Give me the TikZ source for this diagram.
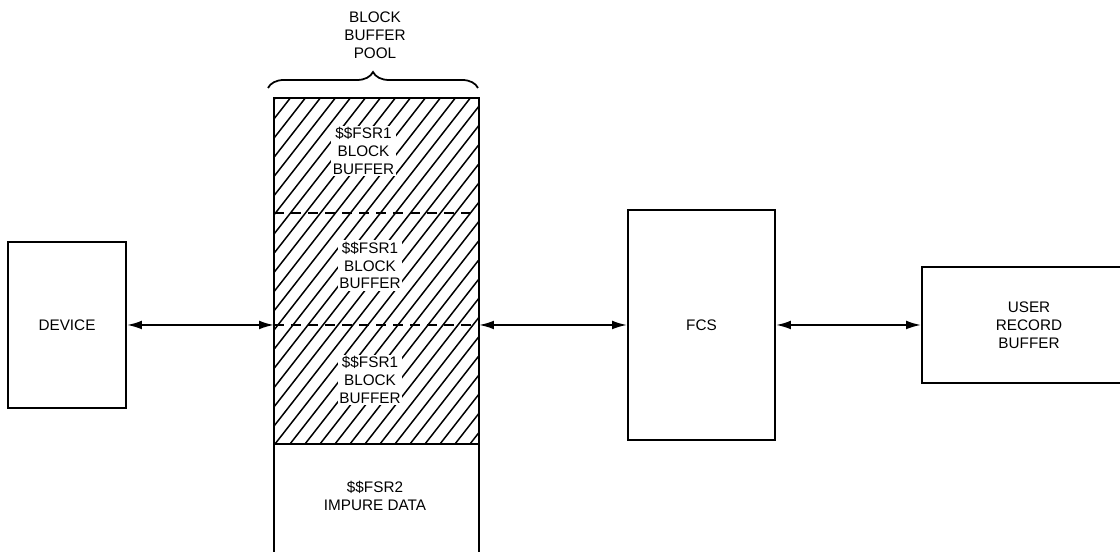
\documentclass[tikz,border=0pt]{standalone}
\usepackage{fontspec}
\setmainfont{Liberation Sans}
\usetikzlibrary{arrows.meta,decorations.pathreplacing}

\begin{document}
\begin{tikzpicture}[>={Latex[length=8.5pt,width=5pt]},
  font=\fontsize{8.7}{10.2}\selectfont,
  box/.style={draw,line width=1.1pt,inner sep=0pt},
  txt/.style={align=center,fill=white,inner sep=1pt},
  link/.style={<->,line width=1.1pt}]
\useasboundingbox (0,0) rectangle (22.4,11.04);
\clip (0,0) rectangle (22.4,11.04);
% ===================== LEFT: device =====================
\node[box,minimum width=2.36cm,minimum height=3.32cm] (device) at (1.34,4.54) {DEVICE};
% ===================== MIDDLE: block buffer pool =====================
\begin{scope}
  % hatching over the three block buffers
  \begin{scope}
    \clip (5.48,2.16) rectangle (9.58,9.08);
    \foreach \k in {0,...,33}
      \draw[line width=0.85pt] (0.1+\k*0.3,2.16) -- ++(52:11.5);
  \end{scope}
  % dashed separators
  \draw[line width=0.9pt,dash pattern=on 0.2cm off 0.14cm] (5.48,6.78) -- (9.58,6.78);
  \draw[line width=0.9pt,dash pattern=on 0.2cm off 0.14cm] (5.48,4.54) -- (9.58,4.54);
  % frame, open at the bottom
  \draw[line width=1.1pt] (5.48,0) -- (5.48,9.08) -- (9.58,9.08) -- (9.58,0);
  \draw[line width=1.1pt] (5.48,2.16) -- (9.58,2.16);
  \coordinate (poolL) at (5.48,4.54);
  \coordinate (poolR) at (9.58,4.54);
  \node[txt] (buf1) at (7.27,8.02) {\$\$FSR1\\BLOCK\\BUFFER};
  \node[txt] (buf2) at (7.40,5.73) {\$\$FSR1\\BLOCK\\BUFFER};
  \node[txt] (buf3) at (7.40,3.44) {\$\$FSR1\\BLOCK\\BUFFER};
  \node[align=center] (impure) at (7.50,1.13) {\$\$FSR2\\IMPURE DATA};
  % brace and title
  \draw[line width=1pt,decorate,decoration={brace,amplitude=0.32cm}] (5.36,9.28) -- (9.56,9.28);
  \node[align=center] (title) at (7.50,10.34) {BLOCK\\BUFFER\\POOL};
\end{scope}
% ===================== RIGHT: FCS and user buffer =====================
\node[box,minimum width=2.94cm,minimum height=4.60cm] (fcs) at (14.03,4.54) {FCS};
\node[box,align=center,minimum width=4.28cm,minimum height=2.32cm] (user) at (20.58,4.54) {USER\\RECORD\\BUFFER};
% ===================== arrows =====================
\draw[link] (device.east) -- (poolL);
\draw[link] (poolR) -- (fcs.west);
\draw[link] (fcs.east) -- (user.west);
\end{tikzpicture}
\end{document}
